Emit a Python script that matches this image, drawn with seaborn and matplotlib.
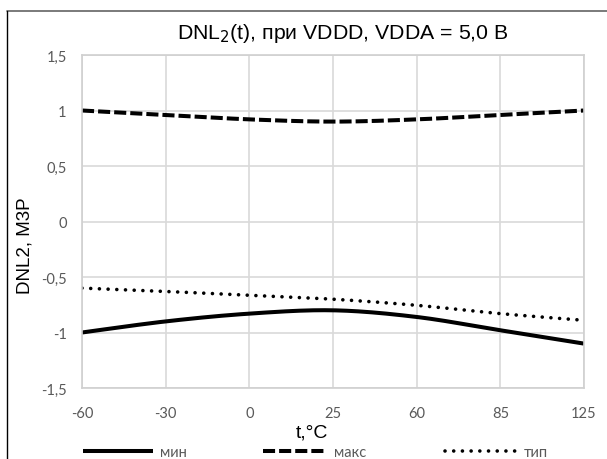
import numpy as np
import pandas as pd
import matplotlib
matplotlib.use("Agg")
import matplotlib.pyplot as plt
from matplotlib.lines import Line2D
import seaborn as sns

categories = ["-60", "-30", "0", "25", "60", "85", "125"]
mins = [-1.0, -0.9, -0.83, -0.8, -0.86, -0.98, -1.1]
maxs = [1.0, 0.96, 0.92, 0.9, 0.92, 0.96, 1.0]
typs = [-0.6, -0.63, -0.665, -0.7, -0.755, -0.83, -0.89]
series_names = ["мин", "макс", "тип"]
yticks = [-1.5, -1, -0.5, 0, 0.5, 1, 1.5]
ytick_labels = ["-1,5", "-1", "-0,5", "0", "0,5", "1", "1,5"]


def smooth(xs, ys, n=30):
    # Excel-like Bezier smoothing of a polyline for display
    P = np.column_stack([xs, ys]).astype(float)
    ext = np.vstack([P[0], P, P[-1]])
    out = []
    for i in range(len(P) - 1):
        p0, p1, p2, p3 = ext[i], ext[i + 1], ext[i + 2], ext[i + 3]
        c1 = p1 + (p2 - p0) / 6.0
        c2 = p2 - (p3 - p1) / 6.0
        t = np.linspace(0, 1, n, endpoint=(i == len(P) - 2))[:, None]
        b = (1 - t) ** 3 * p1 + 3 * (1 - t) ** 2 * t * c1 + 3 * (1 - t) * t ** 2 * c2 + t ** 3 * p2
        out.append(b)
    return np.vstack(out)


sns.set_theme(style="white")
plt.rcParams["font.family"] = ["Liberation Sans", "DejaVu Sans"]
TICKFONT = ["Lato", "Liberation Sans", "DejaVu Sans"]
GRAY = "#595959"

W, H = 607, 460
fig = plt.figure(figsize=(W / 100, H / 100), dpi=100)
ax = fig.add_axes([82 / W, 1 - 389 / H, (584 - 82) / W, (389 - 56) / H])

xpos = np.arange(len(categories))
rows = []
for name, vals in zip(series_names, [mins, maxs, typs]):
    s = smooth(xpos, vals)
    for k, (x, y) in enumerate(s):
        rows.append({"x": x, "y": y, "s": name, "k": k})
df = pd.DataFrame(rows)

styles = {
    "мин": dict(linestyle="-", lw=2.9, solid_capstyle="butt"),
    "макс": dict(linestyle=(0, (3.0, 1.0)), lw=2.9, dash_capstyle="butt"),
    "тип": dict(linestyle=(0, (0.01, 2.4)), lw=2.6, dash_capstyle="round"),
}
for name in series_names:
    sub = df[df["s"] == name]
    sns.lineplot(data=sub, x="x", y="y", ax=ax, sort=False, estimator=None,
                 color="black", legend=False, **styles[name])

ax.set_xlim(0, len(categories) - 1)
ax.set_ylim(-1.5, 1.5)
ax.set_xticks(xpos)
ax.set_xticklabels(categories, family=TICKFONT)
ax.set_yticks(yticks)
ax.set_yticklabels(ytick_labels, family=TICKFONT)
ax.grid(True, color="#d9d9d9", lw=1.2)
ax.set_axisbelow(True)
for sp in ax.spines.values():
    sp.set_visible(True)
    sp.set_color("#d0d0d0")
    sp.set_linewidth(1.2)
ax.tick_params(axis="both", length=0, labelsize=10.5, labelcolor=GRAY)
ax.tick_params(axis="x", pad=13)
ax.tick_params(axis="y", pad=11)
ax.set_xlabel("")
ax.set_ylabel("")

fig.text(312 / W, 1 - 433 / H, "t,°C", ha="center", va="center", fontsize=14, color="black")
fig.text(25 / W, 1 - 246 / H, "DNL2, М3Р", ha="center", va="center", rotation=90,
         fontsize=13.5, color="black")
fig.text(343 / W, 1 - 39 / H, "DNL$_2$(t), при VDDD, VDDA = 5,0 В", ha="center", va="baseline",
         fontsize=15.3, color="black")

starts = [83, 263, 445]
hlens = [70, 64, 72]
for name, x0, hl in zip(series_names, starts, hlens):
    h = Line2D([], [], color="black", **styles[name])
    fs = 10.5
    em = fs * 100 / 72
    leg = fig.legend([h], [name], loc="center left", bbox_to_anchor=(x0 / W, 1 - 453 / H),
                     frameon=False, prop={"family": TICKFONT, "size": fs},
                     handlelength=hl / em, handletextpad=0.45, borderpad=0, borderaxespad=0)
    for t in leg.get_texts():
        t.set_color(GRAY)

fig.add_artist(Line2D([7 / W, 1], [1 - 12 / H, 1 - 12 / H], color="#707070", lw=1.3,
                      transform=fig.transFigure))
fig.add_artist(Line2D([7 / W, 7 / W], [0, 1 - 12 / H], color="black", lw=1.0,
                      transform=fig.transFigure))

fig.savefig("out.png", dpi=100)
